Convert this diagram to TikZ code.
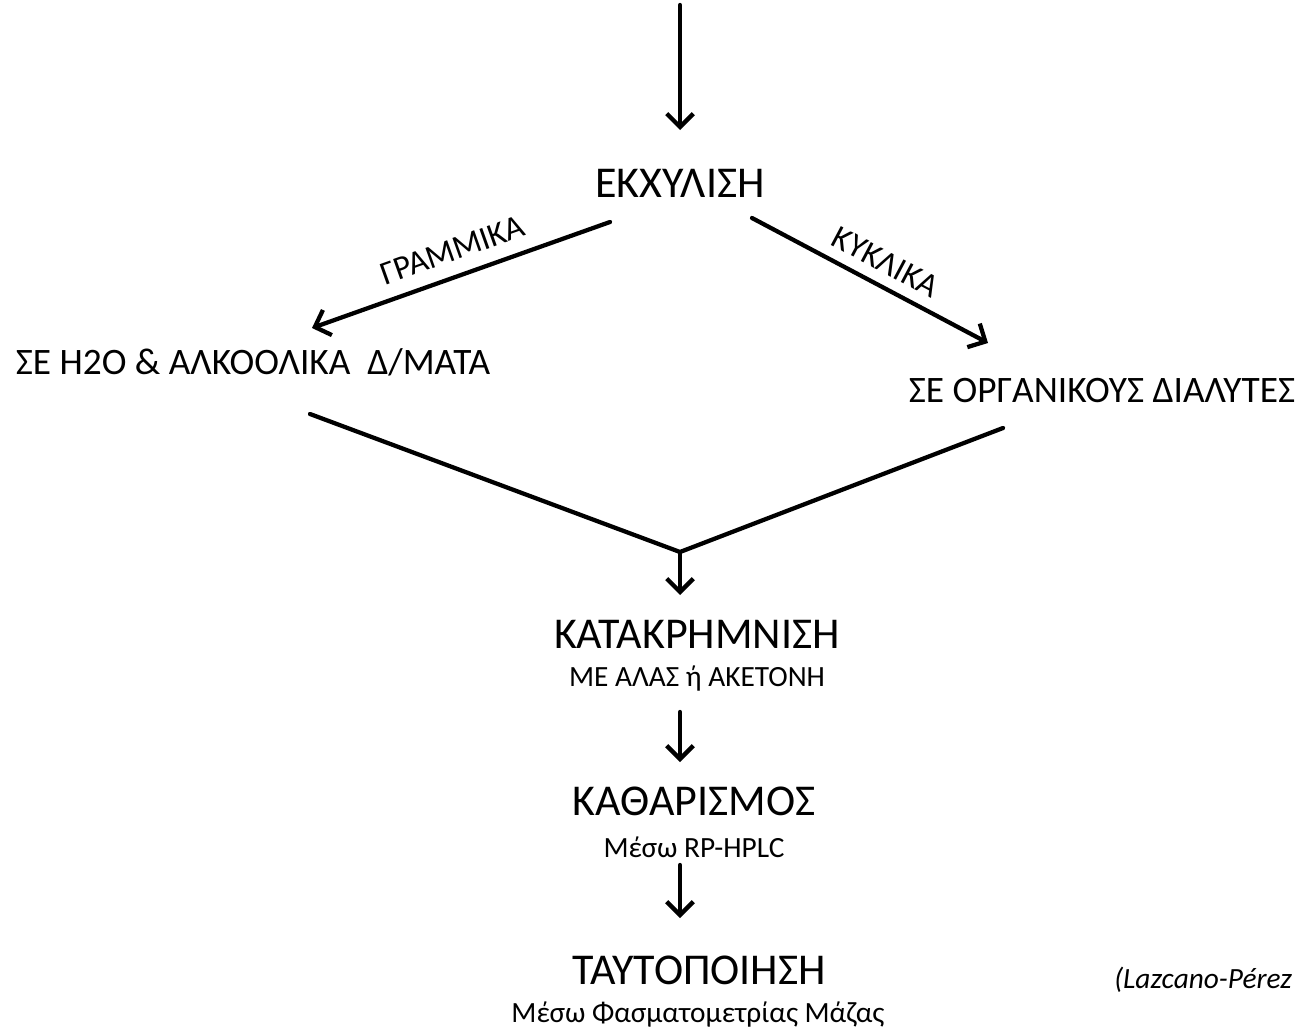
\documentclass[tikz,border=0pt]{standalone}
\usepackage{fontspec}
\setmainfont{Carlito}
\usetikzlibrary{arrows.meta}
\tikzset{
  flow/.style={line width=3.2pt, line cap=round, -{Straight Barb[length=10pt,width=20pt,line width=3.2pt]}},
  joinline/.style={line width=3.2pt, line cap=round},
  big/.style={font=\fontsize{33}{36}\selectfont, inner sep=0pt},
  mid/.style={font=\fontsize{28}{32}\selectfont, inner sep=0pt},
  small/.style={font=\fontsize{22}{24}\selectfont, inner sep=0pt},
  lbl/.style={font=\fontsize{25}{27}\selectfont, inner sep=0pt},
}
\begin{document}
\begin{tikzpicture}[x=0.75pt,y=-0.75pt]
\useasboundingbox (0,0) rectangle (1312,1031);
\coordinate (top) at (680,5);
\node[big] (ekx) at (680,183) {ΕΚΧΥΛΙΣΗ};
\coordinate (lstart) at (610,222);
\coordinate (lend) at (312,328);
\coordinate (rstart) at (752,218);
\coordinate (rend) at (988,343);
\node[mid] (water) at (253,362) {ΣΕ Η2Ο \& ΑΛΚΟΟΛΙΚΑ \ Δ/ΜΑΤΑ};
\node[mid] (org) at (1102,391) {ΣΕ ΟΡΓΑΝΙΚΟΥΣ ΔΙΑΛΥΤΕΣ};
\coordinate (m1) at (310,414);
\coordinate (m2) at (1003,428);
\coordinate (merge) at (680,552);
\node[big] (kat) at (697,634) {ΚΑΤΑΚΡΗΜΝΙΣΗ};
\node[small] (katsub) at (697,679) {ΜΕ ΑΛΑΣ ή ΑΚΕΤΟΝΗ};
\node[big] (kath) at (694,801) {ΚΑΘΑΡΙΣΜΟΣ};
\node[small] (kathsub) at (694,847) {Μέσω RP-HPLC};
\node[big] (tayt) at (699,970) {ΤΑΥΤΟΠΟΙΗΣΗ};
\node[small] (taytsub) at (698,1015) {Μέσω Φασματομετρίας Μάζας};
\node[font=\fontsize{22}{24}\selectfont\itshape, inner sep=0pt, anchor=west] (ref) at (1114,980) {(Lazcano-Pérez};

\draw[flow] (top) -- (680,130);
\draw[flow] (lstart) -- (lend) node[lbl, pos=0.5, above=10pt, sloped] (gr) {ΓΡΑΜΜΙΚΑ};
\draw[flow] (rstart) -- (rend) node[lbl, pos=0.52, above=8pt, sloped] (ky) {ΚΥΚΛΙΚΑ};
\draw[joinline] (m1) -- (merge) -- (m2);
\draw[flow] (merge) -- (680,595);
\draw[flow] (680,712) -- (680,762);
\draw[flow] (680,865) -- (680,918);
\end{tikzpicture}
\end{document}
